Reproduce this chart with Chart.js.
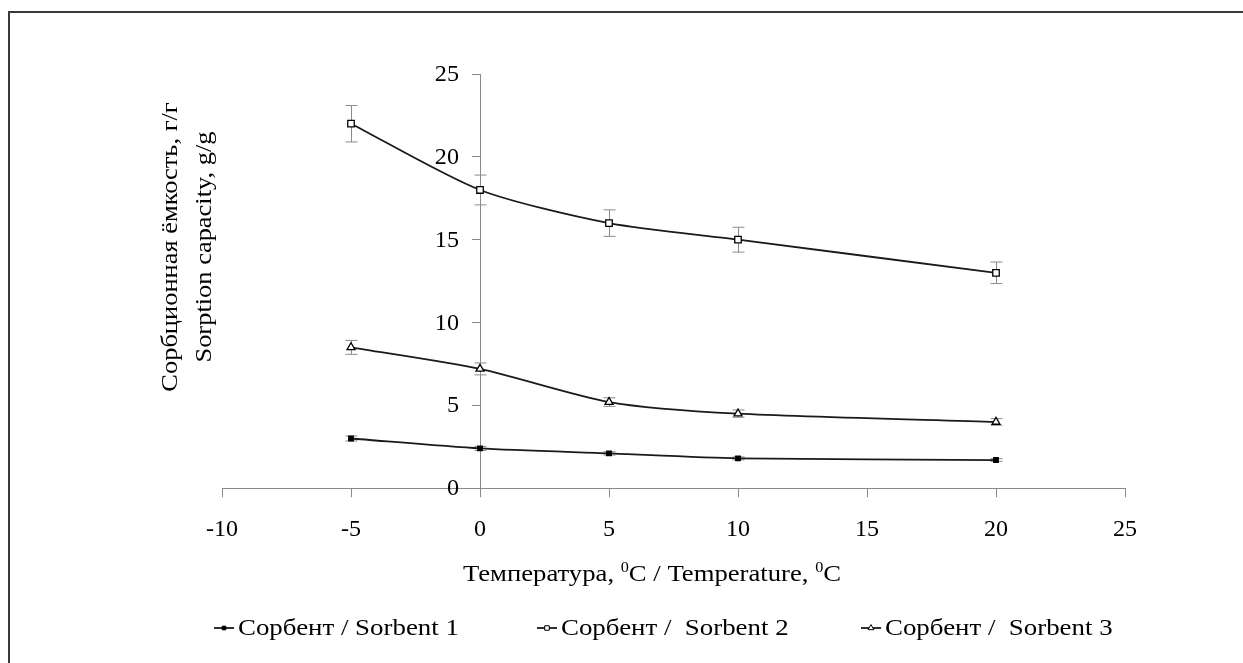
<!DOCTYPE html>
<html>
<head>
<meta charset="utf-8">
<script src="https://cdn.jsdelivr.net/npm/chart.js@4.4.1/dist/chart.umd.min.js"></script>
<style>
  html, body { margin: 0; padding: 0; background: #fff; }
  #wrap { position: relative; width: 1243px; height: 663px; }
</style>
</head>
<body>
<div id="wrap"><canvas id="c"></canvas></div>
<script>
// ---- data ----
const temperatures = [-5, 0, 5, 10, 20];
const sorbent1 = [3.0, 2.4, 2.1, 1.8, 1.7];
const sorbent2 = [22.0, 18.0, 16.0, 15.0, 13.0];
const sorbent3 = [8.5, 7.2, 5.2, 4.5, 4.0];
const err1 = [0.15, 0.12, 0.1, 0.09, 0.08];
const err2 = [1.1, 0.9, 0.8, 0.75, 0.65];
const err3 = [0.42, 0.36, 0.26, 0.22, 0.2];
const seriesLabels = ['Сорбент / Sorbent 1', 'Сорбент /  Sorbent 2', 'Сорбент /  Sorbent 3'];
const xTicks = [-10, -5, 0, 5, 10, 15, 20, 25];
const yTicks = [0, 5, 10, 15, 20, 25];
const yTitleLines = ['Сорбционная ёмкость, г/г', 'Sorption capacity, g/g'];
const xTitleParts = [['Температура, ', false], ['0', true], ['C / Temperature, ', false], ['0', true], ['C', false]];

const FONT = '"Liberation Serif", "Times New Roman", serif';
const LINE = '#1a1a1a';
const AXIS = '#8a8a8a';

function pts(vals) { return temperatures.map((t, i) => ({ x: t, y: vals[i] })); }

const datasets = [
  { label: seriesLabels[0], data: pts(sorbent1), errors: err1, pointStyle: 'rect', pointRadius: 3.2,
    backgroundColor: '#000', pointBackgroundColor: '#000', legendRadius: 2.6 },
  { label: seriesLabels[1], data: pts(sorbent2), errors: err2, pointStyle: 'rect', pointRadius: 4.6,
    backgroundColor: '#fff', pointBackgroundColor: '#fff', legendRadius: 3.2 },
  { label: seriesLabels[2], data: pts(sorbent3), errors: err3, pointStyle: 'triangle', pointRadius: 4.6,
    backgroundColor: '#fff', pointBackgroundColor: '#fff', legendRadius: 3.4 }
].map(d => Object.assign({
  borderColor: LINE, borderWidth: 1.8, pointBorderColor: '#000', pointBorderWidth: 1.3,
  tension: 0.25, fill: false, pointHoverRadius: d.pointRadius
}, d));

// error bars, drawn through the scales
const errorBars = {
  id: 'errorBars',
  beforeDatasetsDraw(chart) {
    const { ctx, scales: { x, y } } = chart;
    ctx.save();
    ctx.strokeStyle = '#8a8a8a';
    ctx.lineWidth = 1;
    chart.data.datasets.forEach(ds => {
      ds.data.forEach((p, i) => {
        const e = ds.errors[i];
        const px = Math.round(x.getPixelForValue(p.x)) + 0.5;
        const top = y.getPixelForValue(p.y + e);
        const bot = y.getPixelForValue(p.y - e);
        ctx.beginPath();
        ctx.moveTo(px, top); ctx.lineTo(px, bot);
        ctx.moveTo(px - 6, top); ctx.lineTo(px + 6, top);
        ctx.moveTo(px - 6, bot); ctx.lineTo(px + 6, bot);
        ctx.stroke();
      });
    });
    ctx.restore();
  }
};

function stretchedText(ctx, text, x, y, sx) {
  ctx.save();
  ctx.translate(x, y);
  ctx.scale(sx, 1);
  ctx.fillText(text, 0, 0);
  ctx.restore();
}

// tick labels on the y axis, titles, legend and frame
const decorations = {
  id: 'decorations',
  afterDraw(chart) {
    const ctx = chart.ctx;
    const { x: xs, y: ys } = chart.scales;
    ctx.save();
    // frame (top and left)
    ctx.strokeStyle = '#3a3a3a';
    ctx.lineWidth = 2;
    ctx.beginPath();
    ctx.moveTo(9, 663); ctx.lineTo(9, 12); ctx.lineTo(1243, 12);
    ctx.stroke();

    // y tick labels
    ctx.fillStyle = '#000';
    ctx.font = '23px ' + FONT;
    ctx.textAlign = 'right';
    ctx.textBaseline = 'middle';
    const axisX = xs.getPixelForValue(0);
    yTicks.forEach(v => {
      stretchedText(ctx, String(v), axisX - 21, ys.getPixelForValue(v) + 1, 1.05);
    });

    // y title
    ctx.font = '23px ' + FONT;
    ctx.textAlign = 'center';
    ctx.textBaseline = 'middle';
    const yc = 247;
    [171, 205].forEach((xc, i) => {
      ctx.save();
      ctx.translate(xc, yc);
      ctx.rotate(-Math.PI / 2);
      ctx.scale(1.15, 1);
      ctx.fillText(yTitleLines[i], 0, 0);
      ctx.restore();
    });

    // x title with superscripts
    const sx = 1.16;
    const big = '23px ' + FONT, small = '14px ' + FONT;
    let total = 0;
    xTitleParts.forEach(([t, sup]) => { ctx.font = sup ? small : big; total += ctx.measureText(t).width * sx; });
    let cx = 652 - total / 2;
    ctx.textAlign = 'left';
    ctx.textBaseline = 'alphabetic';
    const base = 581;
    xTitleParts.forEach(([t, sup]) => {
      ctx.font = sup ? small : big;
      stretchedText(ctx, t, cx, sup ? base - 9 : base, sx);
      cx += ctx.measureText(t).width * sx;
    });

    // legend
    const starts = [214, 537, 861];
    const ly = 628;
    chart.data.datasets.forEach((ds, i) => {
      const lx = starts[i];
      ctx.strokeStyle = LINE;
      ctx.lineWidth = 1.8;
      ctx.beginPath();
      ctx.moveTo(lx, ly); ctx.lineTo(lx + 20, ly);
      ctx.stroke();
      ctx.fillStyle = ds.pointBackgroundColor;
      ctx.strokeStyle = '#000';
      ctx.lineWidth = 1;
      Chart.helpers.drawPoint(ctx, { pointStyle: ds.pointStyle, radius: ds.legendRadius, rotation: 0, borderWidth: 1 }, lx + 10, ly);
      ctx.fillStyle = '#000';
      ctx.font = '24px ' + FONT;
      ctx.textAlign = 'left';
      ctx.textBaseline = 'middle';
      stretchedText(ctx, ds.label, lx + 24, ly + 1, 1.12);
    });
    ctx.restore();
  }
};

new Chart(document.getElementById('c'), {
  type: 'line',
  data: { datasets },
  plugins: [errorBars, decorations],
  options: {
    responsive: true,
    maintainAspectRatio: false,
    animation: false,
    events: [],
    layout: { padding: { left: 222, right: 118, top: 74, bottom: 101 } },
    plugins: { legend: { display: false }, tooltip: { enabled: false } },
    scales: {
      x: {
        type: 'linear', min: -10, max: 25,
        afterBuildTicks: s => { s.ticks = xTicks.map(v => ({ value: v })); },
        ticks: { font: { family: FONT, size: 24 }, color: '#000', padding: 18, maxRotation: 0 },
        grid: { drawOnChartArea: false, drawTicks: true, tickLength: 9, color: AXIS, lineWidth: 1 },
        border: { display: true, color: AXIS, width: 1 }
      },
      y: {
        type: 'linear', min: 0, max: 25,
        position: { x: 0 },
        afterBuildTicks: s => { s.ticks = yTicks.map(v => ({ value: v })); },
        ticks: { display: false },
        grid: { drawOnChartArea: false, drawTicks: true, tickLength: 8, color: AXIS, lineWidth: 1 },
        border: { display: true, color: AXIS, width: 1 }
      }
    }
  }
});
</script>
</body>
</html>
